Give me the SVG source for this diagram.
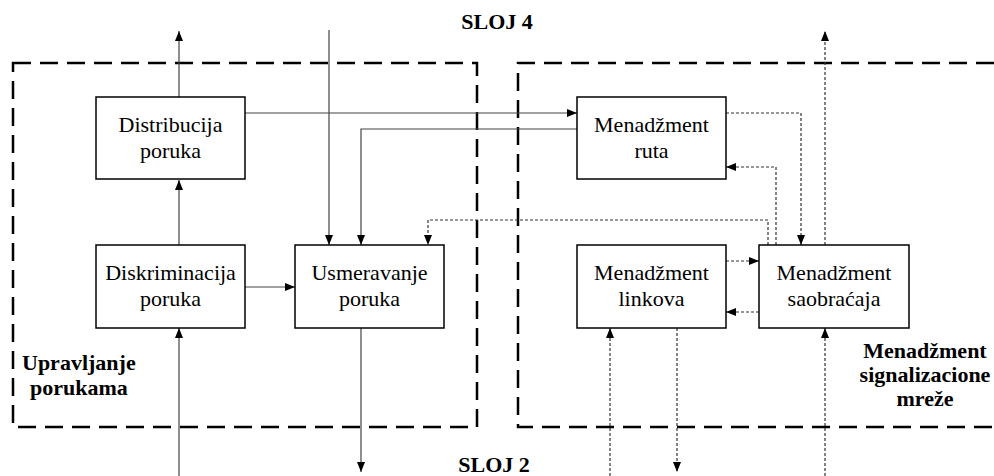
<svg xmlns="http://www.w3.org/2000/svg" width="994" height="476" viewBox="0 0 994 476">
  <style>
    .box { fill: #fff; stroke: #000; stroke-width: 1.5; }
    .frame { fill: none; stroke: #000; stroke-width: 2.5; stroke-dasharray: 18 9; }
    .solid { fill: none; stroke: #444; stroke-width: 1.2; marker-end: url(#arr); }
    .dash { fill: none; stroke: #333; stroke-width: 1.2; stroke-dasharray: 3 2; }
    .dash.a { marker-end: url(#arr); }
  </style>
  <defs>
    <marker id="arr" markerUnits="userSpaceOnUse" markerWidth="11" markerHeight="9" refX="10" refY="4" orient="auto">
      <path d="M0,0 L10,4 L0,8 z" fill="#000"/>
    </marker>
  </defs>
  <rect width="994" height="476" fill="#fff"/>

  <!-- layer titles -->
  <g font-size="22" font-weight="bold" text-anchor="middle" fill="#000">
    <text font-family="Liberation Serif" x="497" y="29">SLOJ 4</text>
    <text font-family="Liberation Serif" x="494" y="472">SLOJ 2</text>
  </g>

  <!-- subsystem frames -->
  <g id="frame-upravljanje" font-size="22" font-weight="bold" fill="#000">
    <path class="frame" d="M13,63 H477 V427 H13 Z"/>
    <text font-family="Liberation Serif" x="22" y="370">Upravljanje</text>
    <text font-family="Liberation Serif" x="30" y="395">porukama</text>
  </g>
  <g id="frame-menadzment" font-size="22" font-weight="bold" fill="#000" text-anchor="middle">
    <path class="frame" d="M994,63 H518 V427 H994"/>
    <text font-family="Liberation Serif" x="925" y="358">Menadžment</text>
    <text font-family="Liberation Serif" x="925" y="382">signalizacione</text>
    <text font-family="Liberation Serif" x="925" y="406">mreže</text>
  </g>

  <!-- connectors -->
  <g id="connectors">
    <path class="solid" d="M179,97 V31"/>
    <path class="solid" d="M179,245 V180"/>
    <path class="solid" d="M329,30 V245"/>
    <path class="solid" d="M245,113 H577"/>
    <path class="solid" d="M577,129 H361 V245"/>
    <path class="solid" d="M245,287 H295"/>
    <path class="solid" d="M179,476 V328"/>
    <path class="solid" d="M361,328 V472"/>

    <path class="dash a" d="M768,245 V220 H428 V245"/>
    <path class="dash a" d="M726,113 H801 V245"/>
    <path class="dash a" d="M776,245 V167 H726"/>
    <path class="dash a" d="M825,245 V31"/>
    <path class="dash a" d="M726,261 H759"/>
    <path class="dash a" d="M759,312 H726"/>
    <path class="dash a" d="M610,476 V328"/>
    <path class="dash a" d="M677,328 V472"/>
    <path class="dash a" d="M825,476 V328"/>
  </g>

  <!-- nodes -->
  <g font-size="22" fill="#000" text-anchor="middle">
    <g id="distribucija">
      <rect class="box" x="96" y="97" width="149" height="82"/>
      <text font-family="Liberation Serif" x="170.5" y="132">Distribucija</text>
      <text font-family="Liberation Serif" x="170.5" y="158">poruka</text>
    </g>
    <g id="diskriminacija">
      <rect class="box" x="96" y="245" width="149" height="83"/>
      <text font-family="Liberation Serif" x="170.5" y="280">Diskriminacija</text>
      <text font-family="Liberation Serif" x="170.5" y="306">poruka</text>
    </g>
    <g id="usmeravanje">
      <rect class="box" x="295" y="245" width="149" height="83"/>
      <text font-family="Liberation Serif" x="369.5" y="280">Usmeravanje</text>
      <text font-family="Liberation Serif" x="369.5" y="306">poruka</text>
    </g>
    <g id="menadzment-ruta">
      <rect class="box" x="577" y="97" width="149" height="82"/>
      <text font-family="Liberation Serif" x="651.5" y="132">Menadžment</text>
      <text font-family="Liberation Serif" x="651.5" y="158">ruta</text>
    </g>
    <g id="menadzment-linkova">
      <rect class="box" x="577" y="245" width="149" height="83"/>
      <text font-family="Liberation Serif" x="651.5" y="280">Menadžment</text>
      <text font-family="Liberation Serif" x="651.5" y="306">linkova</text>
    </g>
    <g id="menadzment-saobracaja">
      <rect class="box" x="759" y="245" width="150" height="83"/>
      <text font-family="Liberation Serif" x="834" y="280">Menadžment</text>
      <text font-family="Liberation Serif" x="834" y="306">saobraćaja</text>
    </g>
  </g>
</svg>
